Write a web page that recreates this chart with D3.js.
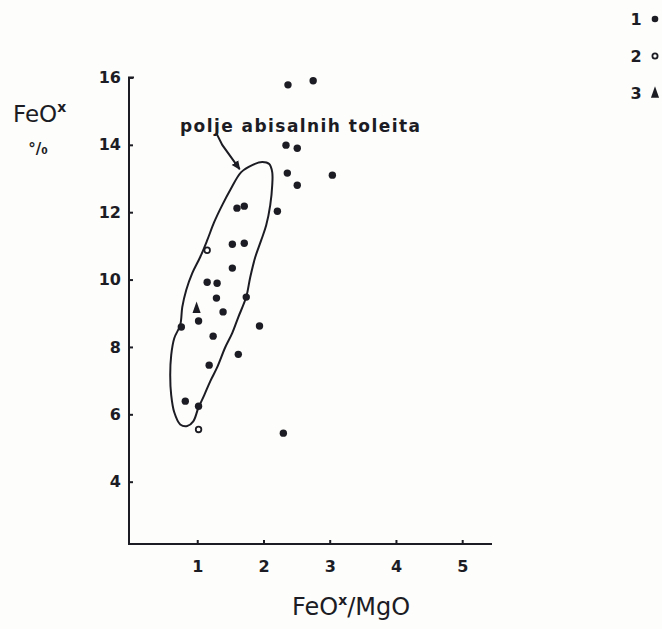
<!DOCTYPE html>
<html>
<head>
<meta charset="utf-8">
<script src="https://cdn.jsdelivr.net/npm/d3@7"></script>
<style>
  body { margin: 0; background: #fdfdfb; }
  svg { display: block; }
  .tick text { font-family: "DejaVu Sans", sans-serif; font-weight: bold; font-size: 16px; fill: #1c1c24; }
</style>
</head>
<body>
<script>
// samples: FeO*/MgO vs FeO* %
var groupFilled = [
    [2.37, 15.78], [2.75, 15.90], [2.34, 13.99], [2.51, 13.90],
    [2.36, 13.16], [3.04, 13.10], [2.51, 12.80], [1.60, 12.12],
    [1.71, 12.18], [2.21, 12.03], [1.53, 11.05], [1.71, 11.08],
    [1.53, 10.34], [1.15, 9.92], [1.30, 9.89], [1.29, 9.45],
    [1.74, 9.48], [1.39, 9.04], [1.02, 8.77], [0.76, 8.59],
    [1.94, 8.62], [1.24, 8.32], [1.62, 7.78], [1.18, 7.46],
    [0.82, 6.39], [1.02, 6.24], [2.30, 5.44]
];
var groupOpen = [[1.15, 10.87], [1.02, 5.55]];
var groupTriangle = [[0.99, 9.12]];

// outline of the abyssal tholeiite field
var fieldOutline = [
    [1.664, 13.19], [1.830, 13.40], [1.981, 13.49], [2.087, 13.43], [2.132, 13.19],
    [2.132, 12.80], [2.102, 12.21], [2.041, 11.61], [1.966, 11.17], [1.875, 10.66],
    [1.800, 10.07], [1.739, 9.48], [1.619, 8.88], [1.528, 8.41], [1.423, 7.99],
    [1.302, 7.40], [1.196, 6.98], [1.106, 6.57], [1.015, 6.18], [0.940, 5.79],
    [0.849, 5.65], [0.743, 5.70], [0.653, 6.06], [0.607, 6.57], [0.592, 7.16],
    [0.607, 7.76], [0.653, 8.26], [0.743, 8.65], [0.774, 9.18], [0.834, 9.69],
    [0.925, 10.19], [1.045, 10.67], [1.151, 11.17], [1.257, 11.71], [1.377, 12.21],
    [1.498, 12.66]
];
var arrowPath = [[1.29, 14.34], [1.38, 13.99], [1.64, 13.28]];

var xTicks = [1, 2, 3, 4, 5];
var yTicks = [4, 6, 8, 10, 12, 14, 16];
var legendLabels = ["1", "2", "3"];
var legendKinds = ["filled", "open", "triangle"];

var width = 662
var height = 629
var ink = "#1c1c24";

const svg = d3.select("body").append("svg")
    .attr("width", width)
    .attr("height", height);

var x = d3.scaleLinear().domain([0, 5.45]).range([131, 492]);
var y = d3.scaleLinear().domain([2.15, 16.15]).range([544, 72.4]);

// axes
var xAxis = svg.append("g")
    .attr("transform", "translate(0,544)")
    .call(d3.axisBottom(x).tickValues(xTicks).tickSize(-4).tickPadding(17).tickFormat(d3.format("d")));
xAxis.select(".domain").attr("d", "M128,0H492").attr("stroke", ink).attr("stroke-width", 2);
xAxis.selectAll(".tick line").attr("stroke", ink).attr("stroke-width", 2);

var yAxis = svg.append("g")
    .attr("transform", "translate(129,0)")
    .call(d3.axisLeft(y).tickValues(yTicks).tickSize(-4).tickPadding(8).tickFormat(d3.format("d")));
yAxis.select(".domain").attr("d", "M5," + y(16) + "H0V545").attr("stroke", ink).attr("stroke-width", 2).attr("fill", "none");
yAxis.selectAll(".tick line").attr("stroke", ink).attr("stroke-width", 2);

// axis titles
var yTitle = svg.append("text")
    .attr("x", 13).attr("y", 122)
    .attr("font-family", "DejaVu Sans, sans-serif")
    .attr("font-size", 23)
    .attr("fill", ink);
yTitle.append("tspan").text("FeO");
yTitle.append("tspan").attr("dy", -10).attr("font-size", 14).attr("font-weight", "bold").text("x");

svg.append("text")
    .attr("x", 38).attr("y", 154)
    .attr("text-anchor", "middle")
    .attr("font-family", "DejaVu Sans, sans-serif")
    .attr("font-weight", "bold")
    .attr("font-size", 15)
    .attr("fill", ink)
    .text("°/₀");

var xTitle = svg.append("text")
    .attr("x", 292).attr("y", 615)
    .attr("font-family", "DejaVu Sans, sans-serif")
    .attr("font-size", 24)
    .attr("fill", ink);
xTitle.append("tspan").text("FeO");
xTitle.append("tspan").attr("dy", -10).attr("font-size", 14).attr("font-weight", "bold").text("x");
xTitle.append("tspan").attr("dy", 10).text("/MgO");

// field outline
svg.append("path")
    .datum(fieldOutline)
    .attr("d", d3.line().x(d => x(d[0])).y(d => y(d[1])).curve(d3.curveCatmullRomClosed))
    .attr("fill", "none")
    .attr("stroke", ink)
    .attr("stroke-width", 2);

// annotation
svg.append("text")
    .attr("x", 180).attr("y", 132)
    .attr("font-family", "DejaVu Sans, sans-serif")
    .attr("font-weight", "bold")
    .attr("font-size", 17)
    .attr("textLength", 240)
    .attr("fill", ink)
    .text("polje  abisalnih  toleita");

svg.append("defs").append("marker")
    .attr("id", "arrowhead")
    .attr("viewBox", "0 -5 10 10")
    .attr("refX", 8)
    .attr("refY", 0)
    .attr("markerWidth", 5)
    .attr("markerHeight", 5)
    .attr("orient", "auto")
    .append("path")
    .attr("d", "M0,-4L9,0L0,4Z")
    .attr("fill", ink);

svg.append("path")
    .datum(arrowPath)
    .attr("d", d3.line().x(d => x(d[0])).y(d => y(d[1])))
    .attr("fill", "none")
    .attr("stroke", ink)
    .attr("stroke-width", 2)
    .attr("marker-end", "url(#arrowhead)");

// points
svg.append("g").selectAll("circle")
    .data(groupFilled)
    .enter().append("circle")
    .attr("cx", d => x(d[0]))
    .attr("cy", d => y(d[1]))
    .attr("r", 3.7)
    .attr("fill", ink);

svg.append("g").selectAll("circle")
    .data(groupOpen)
    .enter().append("circle")
    .attr("cx", d => x(d[0]))
    .attr("cy", d => y(d[1]))
    .attr("r", 2.8)
    .attr("fill", "#fdfdfb")
    .attr("stroke", ink)
    .attr("stroke-width", 1.8);

var tri = d3.symbol().type(d3.symbolTriangle).size(45);
svg.append("g").selectAll("path")
    .data(groupTriangle)
    .enter().append("path")
    .attr("d", tri)
    .attr("transform", d => "translate(" + x(d[0]) + "," + y(d[1]) + ") scale(0.8,1.3)")
    .attr("fill", ink);

// legend
var legend = svg.append("g").selectAll("g")
    .data(legendLabels)
    .enter().append("g")
    .attr("transform", (d, i) => "translate(636," + (19 + i * 37) + ")");

legend.append("text")
    .attr("text-anchor", "middle")
    .attr("dy", "0.36em")
    .attr("font-family", "DejaVu Sans, sans-serif")
    .attr("font-weight", "bold")
    .attr("font-size", 16)
    .attr("fill", ink)
    .text(d => d);

legend.each(function (d, i) {
    var kind = legendKinds[i];
    var sel = d3.select(this);
    if (kind === "filled") {
        sel.append("circle").attr("cx", 19).attr("r", 3.3).attr("fill", ink);
    } else if (kind === "open") {
        sel.append("circle").attr("cx", 19).attr("r", 2.6).attr("fill", "none")
            .attr("stroke", ink).attr("stroke-width", 1.8);
    } else {
        sel.append("path").attr("d", tri).attr("transform", "translate(19,1) scale(0.8,1.3)").attr("fill", ink);
    }
});
</script>
</body>
</html>
